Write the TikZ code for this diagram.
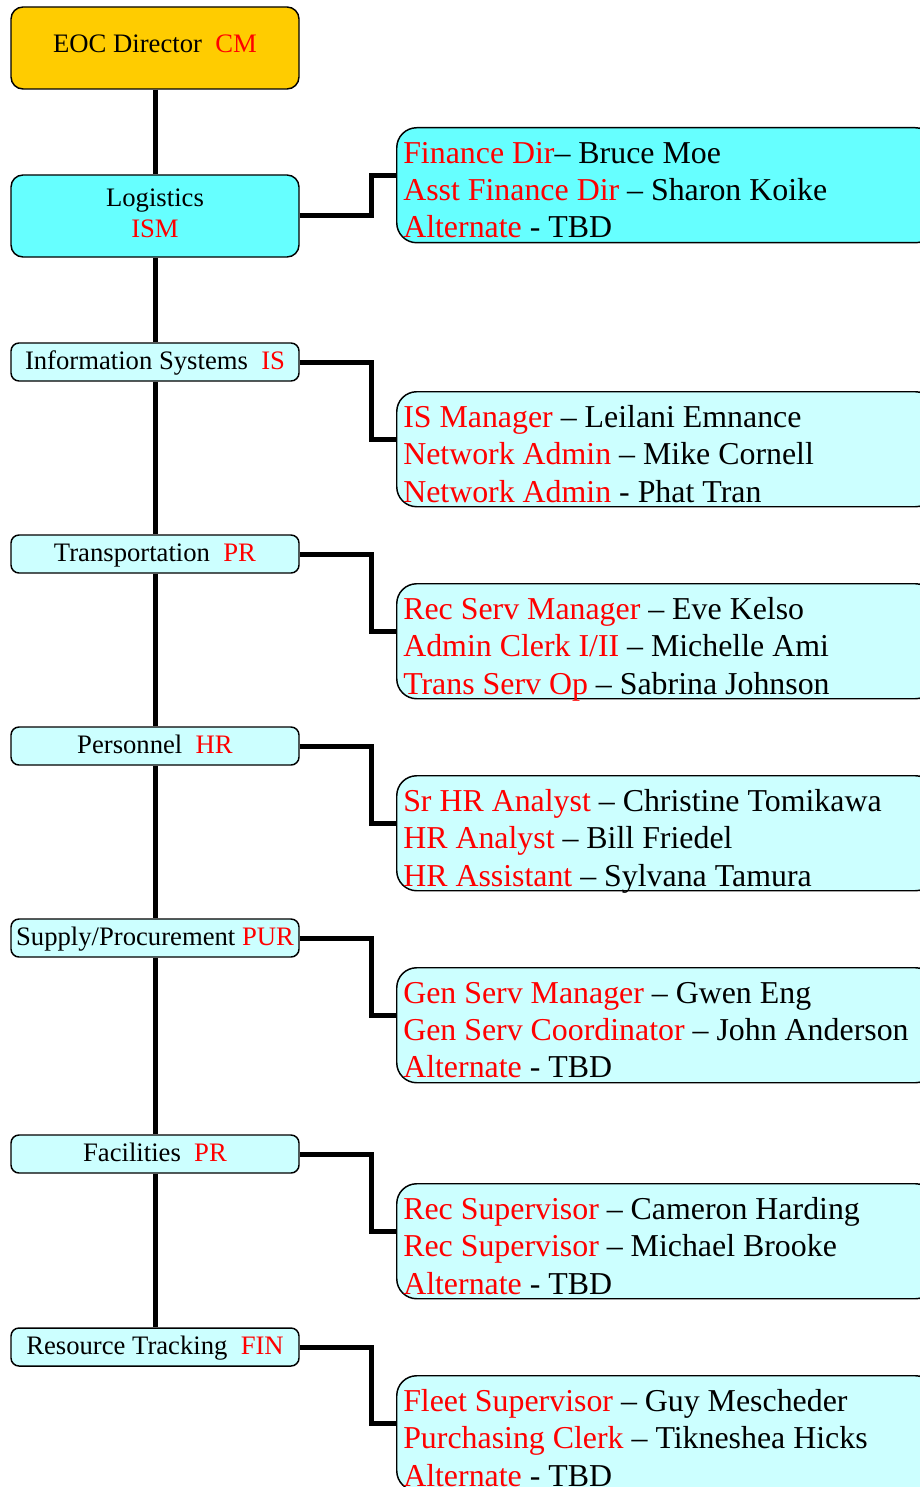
\documentclass[tikz,border=0pt]{standalone}
\usepackage{fontspec}
\setmainfont{Liberation Serif}
\definecolor{eocgold}{HTML}{FFCC00}
\definecolor{logcyan}{HTML}{66FFFF}
\definecolor{palecyan}{HTML}{CCFFFF}
\newcommand{\post}[1]{\textcolor{red}{#1}}
\newcommand{\topline}{\rule{0pt}{16.5pt}}
\begin{document}
\begin{tikzpicture}[x=0.75pt,y=-0.75pt,
	boxbase/.style={draw,line width=1.1pt,rounded corners=6pt,fill=palecyan,minimum width=216pt,minimum height=28.5pt,inner sep=2pt,font=\fontsize{20}{23}\selectfont},
	unitbox/.style={boxbase,text height=14pt,text depth=2.2pt},
	headbox/.style={boxbase,minimum height=61.5pt,rounded corners=9pt,align=center},
	staffbox/.style={draw,line width=1.1pt,rounded corners=15pt,fill=palecyan,minimum width=404pt,minimum height=86.25pt,anchor=north west,inner sep=0pt},
	staff/.style={anchor=north west,inner sep=0pt,align=left,font=\fontsize{23.9}{28}\selectfont},
	trunk/.style={line width=3.75pt},
	link/.style={line width=3.75pt}]
		\useasboundingbox (0,0) rectangle (920,1487);
		% left column
		\node[headbox,fill=eocgold,text height=13.7pt,text depth=7pt] (eoc) at (155,48) {EOC Director\ \ \post{CM}};
		\node[headbox,fill=logcyan] (log) at (155,216) {Logistics\\\post{ISM}\rule[-4.5pt]{0pt}{4.5pt}};
		\node[unitbox] (is) at (155,362) {Information Systems\ \ \post{IS}};
		\node[unitbox] (tr) at (155,554) {Transportation\ \ \post{PR}};
		\node[unitbox] (hr) at (155,746) {Personnel\ \ \post{HR}};
		\node[unitbox] (sp) at (155,938) {Supply/Procurement \post{PUR}};
		\node[unitbox] (fa) at (155,1154) {Facilities\ \ \post{PR}};
		\node[unitbox] (rt) at (155,1347) {Resource Tracking\ \ \post{FIN}};
		% staff boxes
		\node[staffbox,fill=logcyan] (fin) at (396,127) {};
		\node[staff] (fint) at ([xshift=5.25pt,yshift=-10.5pt]fin.north west) {\topline\post{Finance Dir}– Bruce Moe\\\post{Asst Finance Dir} – Sharon Koike\\\post{Alternate} - TBD};
		\node[staffbox] (ism) at (396,391) {};
		\node[staff] (ismt) at ([xshift=5.25pt,yshift=-10.5pt]ism.north west) {\topline\post{IS Manager} – Leilani Emnance\\\post{Network Admin} – Mike Cornell\\\post{Network Admin} - Phat Tran};
		\node[staffbox] (trs) at (396,583) {};
		\node[staff] (trst) at ([xshift=5.25pt,yshift=-10.5pt]trs.north west) {\topline\post{Rec Serv Manager} – Eve Kelso\\\post{Admin Clerk I/II} – Michelle Ami\\\post{Trans Serv Op} – Sabrina Johnson};
		\node[staffbox] (hrs) at (396,775) {};
		\node[staff] (hrst) at ([xshift=5.25pt,yshift=-10.5pt]hrs.north west) {\topline\post{Sr HR Analyst} – Christine Tomikawa\\\post{HR Analyst} – Bill Friedel\\\post{HR Assistant} – Sylvana Tamura};
		\node[staffbox] (sps) at (396,967) {};
		\node[staff] (spst) at ([xshift=5.25pt,yshift=-10.5pt]sps.north west) {\topline\post{Gen Serv Manager} – Gwen Eng\\\post{Gen Serv Coordinator} – John Anderson\\\post{Alternate} - TBD};
		\node[staffbox] (fas) at (396,1183) {};
		\node[staff] (fast) at ([xshift=5.25pt,yshift=-10.5pt]fas.north west) {\topline\post{Rec Supervisor} – Cameron Harding\\\post{Rec Supervisor} – Michael Brooke\\\post{Alternate} - TBD};
		\node[staffbox] (rts) at (396,1375) {};
		\node[staff] (rtst) at ([xshift=5.25pt,yshift=-10.5pt]rts.north west) {\topline\post{Fleet Supervisor} – Guy Mescheder\\\post{Purchasing Clerk} – Tikneshea Hicks\\\post{Alternate} - TBD};
		% connectors
		\foreach \a/\b in {eoc/log,log/is,is/tr,tr/hr,hr/sp,sp/fa,fa/rt}
			\draw[trunk] (\a) -- (\b);
		\foreach \a/\b in {log/fin,is/ism,tr/trs,hr/hrs,sp/sps,fa/fas,rt/rts}
			\draw[link] (\a.east) -- ++(72,0) |- ([yshift=7.1pt]\b.west);
\end{tikzpicture}
\end{document}
